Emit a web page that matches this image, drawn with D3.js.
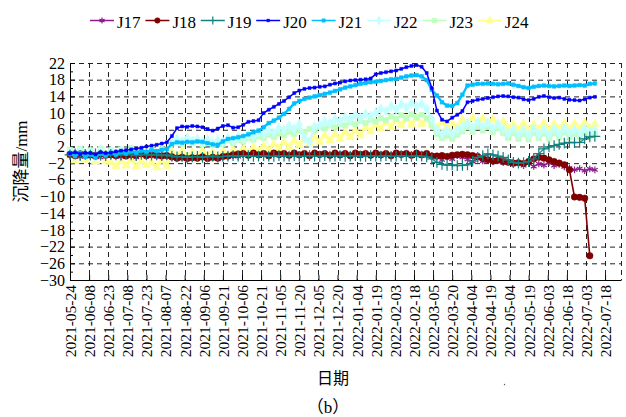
<!DOCTYPE html>
<html>
<head>
<meta charset="utf-8">
<script src="https://cdn.jsdelivr.net/npm/d3@7"></script>
<style>
  body { margin: 0; background: #fff; }
</style>
</head>
<body>
<div id="chart"></div>
<script>
// Observationer: en måling hver 4. dag fra startdatoen
const startDay = "2021-05-24";
const stepDays = 4;
const axisEnd = "2022-07-30";

const tickDates = ["2021-05-24", "2021-06-08", "2021-06-23", "2021-07-08", "2021-07-23", "2021-08-07",
  "2021-08-22", "2021-09-06", "2021-09-21", "2021-10-06", "2021-10-21", "2021-11-05", "2021-11-20",
  "2021-12-05", "2021-12-20", "2022-01-04", "2022-01-19", "2022-02-03", "2022-02-18", "2022-03-05",
  "2022-03-20", "2022-04-04", "2022-04-19", "2022-05-04", "2022-05-19", "2022-06-03", "2022-06-18",
  "2022-07-03", "2022-07-18"];
const yTicks = [22, 18, 14, 10, 6, 2, -2, -6, -10, -14, -18, -22, -26, -30];
const yMinorTicks = [20, 16, 12, 8, 4, 0, -4, -8, -12, -16, -20, -24, -28];
const seriesNames = ["J17", "J18", "J19", "J20", "J21", "J22", "J23", "J24"];

const J17 = [-0.2, 0.3, -0.5, 0.1, -0.4, 0.2, -0.6, 0.0, -0.3, 0.2,
  -0.5, 0.1, -0.2, -0.6, 0.2, -0.4, 0.0, -0.5, 0.1, -0.3,
  -0.6, -0.9, -0.5, -1.0, -0.6, -0.8, -0.4, -0.9, -0.7, -1.0,
  -0.6, -0.5, -0.2, -0.4, 0.1, -0.3, 0.2, -0.2, 0.1, -0.4,
  0.2, -0.1, 0.0, -0.3, 0.2, -0.2, 0.1, -0.3, 0.2, -0.1,
  0.0, -0.3, 0.1, -0.2, 0.2, -0.1, 0.0, -0.3, 0.1, -0.2,
  0.2, -0.2, 0.0, -0.3, 0.1, -0.1, 0.2, -0.2, 0.0, -0.3,
  0.1, -0.2, -0.6, -1.2, -0.4, -1.0, -0.2, -0.6, -1.1, -1.6,
  -0.9, -1.5, -1.0, -1.7, -1.2, -1.9, -1.6, -2.3, -1.8, -2.6,
  -2.0, -2.8, -2.2, -2.5, -1.9, -2.6, -2.3, -2.9, -3.2, -3.6,
  -3.3, -3.8, -3.4, -3.6];
const J18 = [0.1, -0.2, 0.2, -0.1, 0.0, -0.3, 0.2, -0.1, 0.0, -0.2,
  0.1, -0.3, 0.0, -0.1, 0.2, -0.2, 0.0, -0.1, -0.3, -0.2,
  -0.5, -0.8, -0.6, -0.9, -0.7, -0.8, -0.5, -0.9, -0.6, -0.8,
  -0.4, -0.3, 0.0, 0.2, 0.3, -0.1, 0.4, 0.0, 0.3, -0.2,
  0.4, 0.1, 0.3, -0.1, 0.4, 0.0, 0.3, -0.2, 0.4, 0.1,
  0.3, -0.1, 0.4, 0.0, 0.3, -0.2, 0.4, 0.1, 0.3, -0.1,
  0.4, 0.0, 0.3, -0.2, 0.4, 0.1, 0.3, -0.1, 0.4, 0.0,
  0.3, -0.3, -0.3, -0.2, -0.4, -0.1, 0.0, 0.1, 0.0, -0.2,
  -0.4, -0.9, -1.2, -1.5, -1.3, -1.6, -1.8, -2.0, -1.9, -2.1,
  -1.6, -1.0, -0.6, -0.8, -1.2, -1.6, -2.0, -2.4, -3.6, -10.1,
  -10.2, -10.4, -24.2];
const J19 = [0.0, 0.2, -0.2, 0.1, -0.1, 0.2, 0.0, -0.2, 0.1, 0.0,
  -0.1, 0.2, 0.0, -0.2, 0.1, 0.0, -0.1, 0.1, -0.2, 0.0,
  -0.3, -0.5, -0.4, -0.6, -0.5, -0.4, -0.6, -0.5, -0.3, -0.5,
  -0.4, -0.3, -0.2, -0.3, -0.3, -0.2, -0.4, -0.3, -0.2, -0.3,
  -0.4, -0.2, -0.3, -0.3, -0.2, -0.4, -0.3, -0.2, -0.3, -0.4,
  -0.2, -0.3, -0.3, -0.2, -0.4, -0.3, -0.2, -0.3, -0.4, -0.2,
  -0.3, -0.3, -0.2, -0.4, -0.3, -0.2, -0.3, -0.4, -0.2, -0.3,
  -0.5, -1.0, -1.8, -2.3, -2.5, -2.4, -2.6, -2.5, -2.4, -1.5,
  -0.6, -0.2, 0.2, 0.0, -0.3, -0.6, -1.2, -1.8, -2.0, -1.9,
  -1.6, -1.0, 0.3, 1.4, 1.9, 2.2, 2.5, 2.8, 3.0, 2.9,
  3.0, 3.8, 4.3, 4.4];
const J20 = [0.3, 0.6, 0.2, 0.5, 0.4, 0.1, 0.6, 0.4, 0.5, 0.8,
  1.0, 1.1, 1.3, 1.5, 1.7, 2.0, 2.2, 2.4, 2.7, 3.0,
  4.5, 6.4, 6.8, 6.7, 6.9, 6.8, 6.6, 6.2, 5.8, 6.3,
  6.9, 7.1, 6.5, 6.6, 7.2, 7.9, 8.1, 8.3, 10.0, 10.8,
  11.5, 12.2, 12.9, 13.8, 14.8, 15.4, 15.8, 16.0, 16.1, 16.3,
  16.4, 16.8, 17.1, 17.3, 17.6, 17.8, 17.9, 18.0, 18.1, 18.3,
  19.3, 19.6, 19.8, 20.0, 20.2, 20.6, 21.0, 21.3, 21.5, 21.1,
  19.6, 16.0, 10.6, 8.4, 8.0, 8.9, 9.6, 10.5, 12.6, 12.9,
  13.2, 13.4, 13.6, 13.8, 14.0, 14.1, 14.0, 13.8, 13.7, 13.3,
  13.1, 13.4, 13.9, 14.1, 13.8, 13.6, 13.7, 13.4, 13.2, 13.1,
  13.0, 13.3, 13.7, 13.9];
const J21 = [0.2, -0.3, 0.4, -0.5, 0.1, -0.6, 0.3, -0.2, 0.5, 0.0,
  0.6, 0.3, 0.8, 0.5, 1.0, 0.7, 1.1, 0.9, 1.2, 1.4,
  2.6, 3.0, 2.9, 3.1, 3.0, 3.2, 3.1, 2.8, 2.5, 2.4,
  3.2, 3.8, 4.0, 4.2, 4.5, 4.9, 5.4, 5.8, 6.6, 7.6,
  8.2, 8.9, 9.8, 11.0, 12.3, 12.9, 13.4, 13.7, 14.0, 14.3,
  14.6, 14.9, 15.3, 15.7, 16.1, 16.4, 16.7, 17.0, 17.2, 17.4,
  17.5, 17.7, 17.9, 18.1, 18.2, 18.5, 18.8, 19.0, 19.1, 18.8,
  17.9, 15.6, 14.2, 12.6, 11.8, 11.7, 12.4, 14.4, 16.6, 16.8,
  17.0, 17.0, 17.1, 17.0, 16.9, 17.0, 17.1, 16.8, 16.5, 16.2,
  16.0, 16.3, 16.5, 16.6, 16.5, 16.4, 16.5, 16.6, 16.5, 16.6,
  16.7, 16.6, 17.0, 17.1];
const J22 = [0.6, -0.4, 1.0, 0.0, 0.8, -0.6, 1.1, -0.1, 0.7, -0.3,
  0.9, 0.2, 1.2, -0.2, 0.9, 0.3, 1.1, -0.1, 1.0, 0.4,
  3.0, 3.8, 3.2, 4.0, 3.3, 3.7, 2.9, 3.6, 2.8, 3.5,
  3.1, 3.9, 3.4, 4.2, 3.9, 4.8, 4.4, 5.3, 4.9, 5.8,
  5.3, 6.4, 6.0, 6.9, 6.2, 7.3, 4.0, 3.0, 6.8, 7.2,
  8.0, 7.6, 8.5, 8.1, 9.0, 8.5, 9.4, 8.9, 9.8, 9.3,
  10.1, 11.0, 10.5, 11.6, 10.9, 12.1, 11.3, 12.4, 11.6, 12.2,
  11.0, 8.5, 6.0, 5.0, 5.8, 5.0, 6.0, 6.6, 7.6, 6.5,
  7.9, 6.8, 7.7, 6.4, 7.4, 6.2, 5.0, 6.2, 4.8, 6.0,
  4.7, 6.3, 5.0, 6.1, 4.9, 6.2, 5.1, 6.4, 5.3, 6.0,
  5.2, 6.3, 5.5, 6.0];
const J23 = [1.2, 0.2, 1.5, 0.4, 1.0, -0.2, 1.4, 0.3, 1.1, 0.0,
  1.3, 0.5, 1.6, 0.2, 1.2, 0.6, 1.5, 0.1, 1.3, 0.7,
  2.8, 3.4, 2.6, 3.5, 2.9, 3.3, 2.5, 3.2, 2.4, 3.0,
  2.6, 3.4, 2.8, 3.5, 3.2, 4.0, 3.6, 4.4, 4.0, 4.8,
  4.3, 5.1, 4.7, 5.5, 5.0, 5.8, 5.4, 6.2, 5.8, 6.6,
  6.3, 7.0, 6.6, 7.4, 7.0, 7.8, 7.3, 8.1, 7.6, 8.4,
  8.0, 8.8, 8.3, 9.2, 8.6, 9.5, 8.8, 9.7, 9.0, 9.6,
  8.8, 7.0, 5.0, 4.0, 4.6, 3.8, 4.8, 5.6, 6.6, 5.5,
  6.9, 5.8, 6.7, 5.4, 6.4, 5.2, 4.0, 5.2, 3.8, 5.0,
  3.7, 5.3, 4.0, 5.1, 3.9, 5.2, 4.1, 5.4, 4.3, 5.0,
  4.2, 5.3, 4.5, 5.0];
const J24 = [-0.2, -1.4, 0.4, -1.2, 0.0, -1.6, 0.3, -1.5, -1.8, -2.8,
  -1.5, -2.6, -1.2, -2.9, -1.6, -2.5, -1.9, -3.0, -1.4, -2.7,
  0.8, -0.6, 1.0, -0.4, 0.6, -0.8, 1.1, -0.3, 0.7, -0.7,
  0.9, -0.2, 1.2, 0.0, 1.5, 0.4, 1.8, 0.8, 2.2, 1.0,
  2.6, 1.5, 3.0, 1.8, 3.4, 2.3, 3.8, 2.7, 4.2, 3.1,
  4.6, 3.4, 5.0, 3.8, 5.4, 4.2, 5.8, 4.6, 6.6, 5.6,
  7.2, 6.2, 7.8, 6.6, 8.3, 7.0, 8.6, 7.2, 8.8, 7.4,
  8.4, 7.4, 6.6, 7.8, 6.4, 7.6, 6.6, 8.4, 7.2, 8.8,
  7.4, 8.7, 7.2, 8.5, 7.0, 8.0, 6.2, 7.4, 6.0, 7.5,
  5.9, 7.3, 6.1, 7.6, 6.0, 7.4, 6.2, 7.6, 6.1, 7.5,
  6.3, 7.7, 6.4, 7.4];

const seriesValues = { J17, J18, J19, J20, J21, J22, J23, J24 };

// Stil for hver serie (farve, markør)
const styles = {
  J17: { color: "#8e1a8e", symbol: d3.symbolAsterisk || d3.symbolCross, size: 30, filled: false, width: 1.2 },
  J18: { color: "#800000", symbol: d3.symbolCircle, size: 34, filled: true, width: 1.6 },
  J19: { color: "#108080", symbol: d3.symbolPlus || d3.symbolCross, size: 40, filled: false, width: 1.2 },
  J20: { color: "#0000ff", symbol: d3.symbolSquare, size: 9, filled: true, width: 1.5 },
  J21: { color: "#00bfff", symbol: d3.symbolSquare, size: 14, filled: true, width: 2.4 },
  J22: { color: "#c4ffff", symbol: d3.symbolDiamond, size: 32, filled: true, width: 2.4 },
  J23: { color: "#bfffc0", symbol: d3.symbolSquare, size: 28, filled: true, width: 2.4 },
  J24: { color: "#ffff90", symbol: d3.symbolTriangle, size: 32, filled: true, width: 2.4 }
};
const drawOrder = ["J24", "J23", "J22", "J17", "J18", "J19", "J21", "J20"];
// Latinsk tekst i serif, kinesiske tegn falder tilbage til Noto CJK
const serif = "'Liberation Serif', 'Times New Roman', Times, 'DejaVu Serif', 'Noto Sans CJK SC', serif";

// Dimensioner
const W = 626, H = 417;
const margin = { top: 63, right: 5, bottom: 137, left: 70 };
const width = W - margin.left - margin.right,
  height = H - margin.top - margin.bottom;

const parse = d3.timeParse("%Y-%m-%d");
const t0 = parse(startDay);

const svg = d3.select("#chart").append("svg")
  .attr("width", W)
  .attr("height", H)
  .style("font-family", serif);

const g = svg.append("g")
  .attr("transform", "translate(" + margin.left + "," + margin.top + ")");

const x = d3.scaleTime()
  .domain([t0, d3.timeHour.offset(parse(axisEnd), 12)])
  .range([0, width]);
const y = d3.scaleLinear().domain([-30, 22]).range([height, 0]);

// Gitter (stiplet)
const grid = g.append("g").attr("stroke", "#222").attr("stroke-width", 1).attr("stroke-dasharray", "5,4");
grid.selectAll("line.h")
  .data(yTicks.filter(v => v !== -30))
  .enter().append("line")
  .attr("x1", 0).attr("x2", width)
  .attr("y1", d => y(d) + 0.5).attr("y2", d => y(d) + 0.5);
grid.selectAll("line.v")
  .data(tickDates.slice(1).map(parse).concat([x.domain()[1]]))
  .enter().append("line")
  .attr("x1", d => Math.round(x(d)) + 0.5).attr("x2", d => Math.round(x(d)) + 0.5)
  .attr("y1", 0).attr("y2", height);

// X-akse
const xAxis = g.append("g")
  .attr("transform", "translate(0," + height + ")")
  .call(d3.axisBottom(x).tickValues(tickDates.map(parse)).tickSize(-5).tickSizeOuter(0)
    .tickFormat(d3.timeFormat("%Y-%m-%d")));
xAxis.attr("font-family", null);
xAxis.select(".domain").attr("stroke", "#000");
xAxis.selectAll("text")
  .attr("transform", "rotate(-90)")
  .attr("x", -5)
  .attr("y", 0)
  .attr("dy", "0.35em")
  .style("text-anchor", "end")
  .style("font-family", serif)
  .style("font-size", "15.5px");

// Y-akse
const yAxis = g.append("g")
  .call(d3.axisLeft(y).tickValues(yTicks).tickSize(-5).tickSizeOuter(0).tickPadding(5));
yAxis.attr("font-family", null);
yAxis.selectAll("text")
  .style("font-family", serif)
  .style("font-size", "16px");
g.append("g")
  .call(d3.axisLeft(y).tickValues(yMinorTicks).tickSize(-3).tickSizeOuter(0).tickFormat(""))
  .select(".domain").remove();

// Serierne
const line = d3.line()
  .x(d => x(d.date))
  .y(d => y(d.v));

drawOrder.forEach(function (name) {
  const st = styles[name];
  const pts = seriesValues[name].map(function (v, i) {
    return { date: d3.timeDay.offset(t0, i * stepDays), v: v };
  });
  g.append("path")
    .datum(pts)
    .attr("fill", "none")
    .attr("stroke", st.color)
    .attr("stroke-width", st.width)
    .attr("d", line);
  g.selectAll(null)
    .data(pts)
    .enter().append("path")
    .attr("transform", d => "translate(" + x(d.date) + "," + y(d.v) + ")")
    .attr("d", d3.symbol().type(st.symbol).size(st.size))
    .attr("fill", st.filled ? st.color : "none")
    .attr("stroke", st.color)
    .attr("stroke-width", st.filled ? 0.5 : 1.2);
});

// Legende
const legend = svg.append("g");
seriesNames.forEach(function (name, i) {
  const st = styles[name];
  const lx = 90 + i * 55.4, ly = 20.5;
  legend.append("line")
    .attr("x1", lx).attr("x2", lx + 24)
    .attr("y1", ly).attr("y2", ly)
    .attr("stroke", st.color).attr("stroke-width", 1.5);
  legend.append("path")
    .attr("transform", "translate(" + (lx + 12) + "," + ly + ")")
    .attr("d", d3.symbol().type(st.symbol).size(Math.min(st.size, 30) * 0.8))
    .attr("fill", st.filled ? st.color : "none")
    .attr("stroke", st.color)
    .attr("stroke-width", st.filled ? 0.5 : 1.2);
  legend.append("text")
    .attr("x", lx + 27).attr("y", 28)
    .style("font-family", serif)
    .style("font-size", "17px")
    .text(name);
});

// Aksetitler
svg.append("text")
  .attr("transform", "translate(27," + (margin.top + height / 2 - 10) + ") rotate(-90)")
  .attr("text-anchor", "middle")
  .style("font-family", serif)
  .style("font-size", "17px")
  .text("沉降量/mm");
svg.append("text")
  .attr("x", 333).attr("y", 384)
  .attr("text-anchor", "middle")
  .style("font-family", serif)
  .style("font-size", "16px")
  .text("日期");
svg.append("text")
  .attr("x", 328).attr("y", 413)
  .attr("text-anchor", "middle")
  .style("font-family", serif)
  .style("font-size", "17px")
  .text("（b）");
svg.append("circle").attr("cx", 504.5).attr("cy", 384.5).attr("r", 0.7).attr("fill", "#555");
</script>
</body>
</html>
